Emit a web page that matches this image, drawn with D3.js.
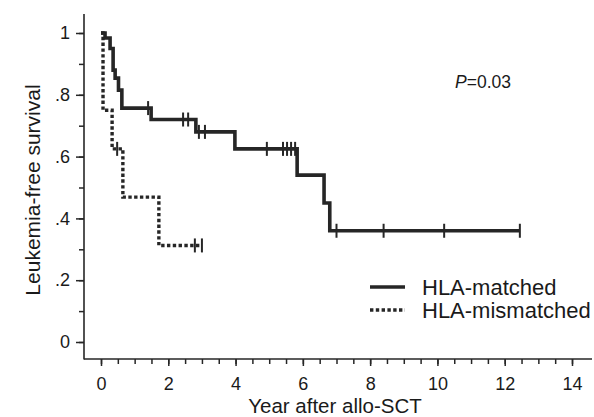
<!DOCTYPE html>
<html><head><meta charset="utf-8">
<script src="https://cdn.jsdelivr.net/npm/d3@7"></script>
<style>
html,body{margin:0;padding:0;background:#fff;}
text{font-family:"Liberation Sans",Arial,Helvetica,sans-serif;fill:#1a1a1a;}
</style></head>
<body><svg id="c" width="594" height="417"></svg>
<script>
// ---- data ----
const matchedTimes = [0, 0.12, 0.27, 0.36, 0.42, 0.52, 0.62, 1.49, 2.82, 3.98, 5.83, 6.63, 6.8];
const matchedSurv  = [1.0, 0.984, 0.95, 0.88, 0.854, 0.815, 0.757, 0.72, 0.68, 0.625, 0.54, 0.45, 0.36];
const matchedCensor = [1.4, 2.44, 2.59, 2.91, 3.09, 4.93, 5.41, 5.53, 5.65, 5.77, 7.0, 8.4, 10.2, 12.45];
const matchedEnd = 12.45;

const mismatchedTimes = [0, 0.06, 0.33, 0.65, 1.72];
const mismatchedSurv  = [1.0, 0.75, 0.625, 0.469, 0.3125];
const mismatchedCensor = [0.48, 2.79, 3.0];
const mismatchedEnd = 3.0;

const xTicks = [0, 2, 4, 6, 8, 10, 12, 14];
const xMinor = d3.range(0, 14.01, 0.5);
const yTicks = [0, 0.2, 0.4, 0.6, 0.8, 1];
const yTickLabels = ["0", ".2", ".4", ".6", ".8", "1"];
const yMinor = d3.range(0, 1.001, 0.1);
const seriesNames = ["HLA-matched", "HLA-mismatched"];

// ---- chart ----
const svg = d3.select("#c");
const x = d3.scaleLinear().domain([0, 14]).range([101, 572]);
const y = d3.scaleLinear().domain([0, 1]).range([342, 33]);
const ink = "#262626";
const axisX0 = 84, axisY0 = 359;

// axis lines
svg.append("line").attr("x1", axisX0).attr("x2", axisX0).attr("y1", 14).attr("y2", axisY0 + 0.5)
  .attr("stroke", ink).attr("stroke-width", 1.6);
svg.append("line").attr("x1", axisX0).attr("x2", 592).attr("y1", axisY0).attr("y2", axisY0)
  .attr("stroke", ink).attr("stroke-width", 1.6);

// x axis
const gx = svg.append("g").attr("transform", `translate(0,${axisY0})`);
gx.call(d3.axisBottom(x).tickValues(xMinor).tickSize(5).tickFormat(""));
gx.append("g").call(d3.axisBottom(x).tickValues(xTicks).tickSize(7).tickPadding(11).tickFormat(d3.format("d")));
gx.selectAll(".domain").remove();
gx.selectAll("line").attr("stroke", ink).attr("stroke-width", 1.5);
gx.selectAll("text").attr("font-size", 18).attr("fill", "#1a1a1a")
  .attr("font-family", "Liberation Sans, Arial, sans-serif");

// y axis
const gy = svg.append("g").attr("transform", `translate(${axisX0},0)`);
gy.call(d3.axisLeft(y).tickValues(yMinor).tickSize(5).tickFormat(""));
gy.append("g").call(d3.axisLeft(y).tickValues(yTicks).tickSize(8).tickPadding(6)
  .tickFormat((d, i) => yTickLabels[i]));
gy.selectAll(".domain").remove();
gy.selectAll("line").attr("stroke", ink).attr("stroke-width", 1.5);
gy.selectAll("text").attr("font-size", 18).attr("fill", "#1a1a1a")
  .attr("font-family", "Liberation Sans, Arial, sans-serif");

// titles
svg.append("text").attr("x", 335).attr("y", 413).attr("text-anchor", "middle")
  .attr("font-size", 20.5).text("Year after allo-SCT");
svg.append("text").attr("transform", "translate(40,190) rotate(-90)").attr("text-anchor", "middle")
  .attr("font-size", 21).text("Leukemia-free survival");

// step curves
function stepPts(times, surv, end) {
  const pts = times.map((t, i) => [t, surv[i]]);
  pts.push([end, surv[surv.length - 1]]);
  return pts;
}
function survAt(times, surv, t) {
  let v = surv[0];
  for (let i = 0; i < times.length; i++) if (times[i] <= t) v = surv[i];
  return v;
}
const line = d3.line().x(d => x(d[0])).y(d => y(d[1])).curve(d3.curveStepAfter);

svg.append("path").datum(stepPts(mismatchedTimes, mismatchedSurv, mismatchedEnd))
  .attr("d", line).attr("fill", "none").attr("stroke", ink).attr("stroke-width", 3.4)
  .attr("stroke-dasharray", "3.4,2.4");
svg.append("path").datum(stepPts(matchedTimes, matchedSurv, matchedEnd))
  .attr("d", line).attr("fill", "none").attr("stroke", ink).attr("stroke-width", 3.6);

// censor marks
function censors(times, surv, cs) {
  svg.append("g").selectAll("line").data(cs).join("line")
    .attr("x1", d => x(d)).attr("x2", d => x(d))
    .attr("y1", d => y(survAt(times, surv, d)) - 7)
    .attr("y2", d => y(survAt(times, surv, d)) + 7)
    .attr("stroke", ink).attr("stroke-width", 2);
}
censors(matchedTimes, matchedSurv, matchedCensor);
censors(mismatchedTimes, mismatchedSurv, mismatchedCensor);

// P value
const pt = svg.append("text").attr("x", 455).attr("y", 88).attr("font-size", 17.5);
pt.append("tspan").attr("font-style", "italic").text("P");
pt.append("tspan").text("=0.03");

// legend
const lg = svg.append("g");
const legY = [287, 310];
lg.append("line").attr("x1", 370).attr("x2", 405).attr("y1", legY[0]).attr("y2", legY[0])
  .attr("stroke", ink).attr("stroke-width", 3.6);
lg.append("line").attr("x1", 370).attr("x2", 405).attr("y1", legY[1]).attr("y2", legY[1])
  .attr("stroke", ink).attr("stroke-width", 3.4).attr("stroke-dasharray", "3.4,2.4");
lg.selectAll("text").data(seriesNames).join("text")
  .attr("x", 422).attr("y", (d, i) => legY[i] + 8).attr("font-size", 22).text(d => d);
</script></body></html>
